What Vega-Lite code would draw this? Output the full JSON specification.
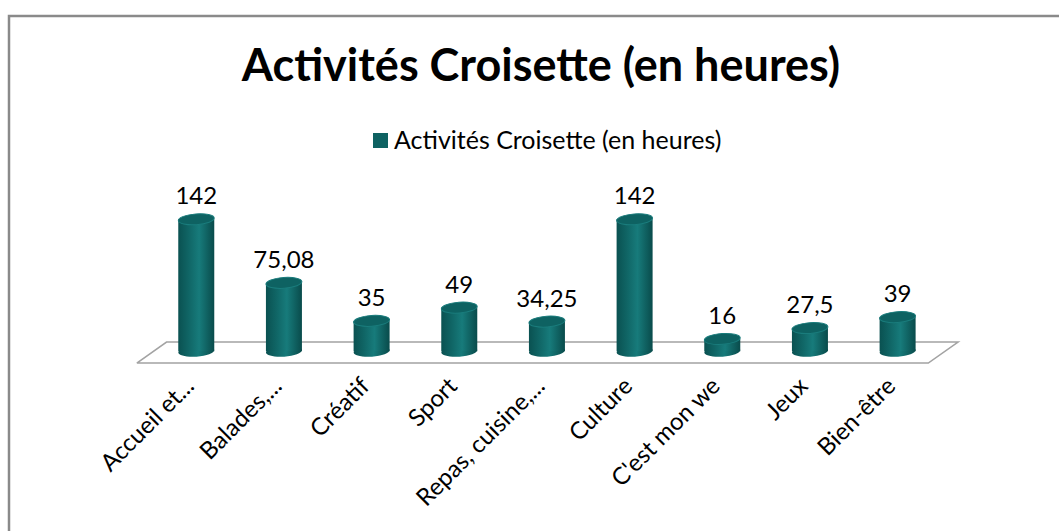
{
  "$schema": "https://vega.github.io/schema/vega-lite/v6.json",
  "width": 1060,
  "height": 525,
  "autosize": "none",
  "padding": {"left": 9, "top": 16, "right": 0, "bottom": 0},
  "background": "white",
  "config": {
    "view": {"stroke": "#8a8a8a", "strokeWidth": 2.5},
    "font": "Lato",
    "locale": {"number": {"decimal": ",", "thousands": " ", "grouping": [3], "currency": ["", " €"]}}
  },
  "title": {
    "text": "Activités Croisette (en heures)",
    "font": "Lato",
    "fontSize": 45,
    "fontWeight": "bold",
    "color": "#000000",
    "anchor": "middle",
    "frame": "group",
    "baseline": "alphabetic",
    "offset": -110,
    "dx": 2
  },
  "datasets": {
    "bars": [
      {"i": 0, "cat": "Accueil et...", "v": 142, "serie": "Activités Croisette (en heures)"},
      {"i": 1, "cat": "Balades,...", "v": 75.08, "serie": "Activités Croisette (en heures)"},
      {"i": 2, "cat": "Créatif", "v": 35, "serie": "Activités Croisette (en heures)"},
      {"i": 3, "cat": "Sport", "v": 49, "serie": "Activités Croisette (en heures)"},
      {"i": 4, "cat": "Repas, cuisine,...", "v": 34.25, "serie": "Activités Croisette (en heures)"},
      {"i": 5, "cat": "Culture", "v": 142, "serie": "Activités Croisette (en heures)"},
      {"i": 6, "cat": "C'est mon we", "v": 16, "serie": "Activités Croisette (en heures)"},
      {"i": 7, "cat": "Jeux", "v": 27.5, "serie": "Activités Croisette (en heures)"},
      {"i": 8, "cat": "Bien-être", "v": 39, "serie": "Activités Croisette (en heures)"}
    ],
    "floor": [
      {"i": -0.678, "h": -9.4, "o": 0},
      {"i": -0.339, "h": 12.7, "o": 1},
      {"i": 8.689, "h": 12.7, "o": 2},
      {"i": 8.35, "h": -9.4, "o": 3},
      {"i": -0.678, "h": -9.4, "o": 4}
    ]
  },
  "encoding": {
    "x": {"field": "i", "type": "quantitative", "scale": {"domain": [-2.079, 9.898], "nice": false, "zero": false}, "axis": null}
  },
  "layer": [
    {
      "data": {"name": "floor"},
      "mark": {"type": "line", "stroke": "#a3a3a3", "strokeWidth": 1.6, "interpolate": "linear"},
      "encoding": {
        "y": {"field": "h", "type": "quantitative", "scale": {"domain": [-196.8, 356.1], "nice": false, "zero": false}, "axis": null},
        "order": {"field": "o", "type": "quantitative"}
      }
    },
    {
      "data": {"name": "bars"},
      "mark": {"type": "point", "filled": true, "opacity": 1, "size": 1296, "angle": -4,
        "shape": "M -1 0 A 1 0.3 0 1 0 1 0 A 1 0.3 0 1 0 -1 0 Z",
        "fill": {"gradient": "linear", "x1": 0, "y1": 0, "x2": 1, "y2": 0,
          "stops": [{"offset": 0, "color": "#0a5151"}, {"offset": 0.55, "color": "#167a7a"}, {"offset": 1, "color": "#094b4b"}]}},
      "encoding": {"y": {"datum": 3, "type": "quantitative"}}
    },
    {
      "data": {"name": "bars"},
      "mark": {"type": "bar", "size": 36,
        "fill": {"gradient": "linear", "x1": 0, "y1": 0, "x2": 1, "y2": 0,
          "stops": [{"offset": 0, "color": "#0a5151"}, {"offset": 0.3, "color": "#106666"}, {"offset": 0.58, "color": "#177b7b"}, {"offset": 1, "color": "#094b4b"}]}},
      "encoding": {
        "y": {"field": "v", "type": "quantitative"},
        "y2": {"datum": 3}
      }
    },
    {
      "data": {"name": "bars"},
      "mark": {"type": "point", "filled": true, "opacity": 1, "size": 1296, "angle": -4,
        "shape": "M -1 0 A 1 0.3 0 1 0 1 0 A 1 0.3 0 1 0 -1 0 Z",
        "stroke": "#1a7c7c", "strokeWidth": 1},
      "encoding": {
        "y": {"field": "v", "type": "quantitative"},
        "color": {
          "field": "serie", "type": "nominal",
          "scale": {"range": ["#0e6262"]},
          "legend": {
            "title": null, "orient": "none", "legendX": 359, "legendY": 112,
            "symbolType": "square", "symbolSize": 225, "symbolStrokeWidth": 0,
            "labelFont": "Lato", "labelFontSize": 25, "labelColor": "#000000",
            "labelOffset": 1, "labelLimit": 0, "padding": 0
          }
        }
      }
    },
    {
      "data": {"name": "bars"},
      "mark": {"type": "text", "font": "Lato", "fontSize": 24, "color": "#000000", "dy": -15, "baseline": "alphabetic"},
      "encoding": {
        "y": {"field": "v", "type": "quantitative"},
        "text": {"field": "v", "type": "quantitative", "format": "~f"}
      }
    },
    {
      "data": {"name": "bars"},
      "mark": {"type": "text", "font": "Lato", "fontSize": 24, "color": "#000000", "angle": -45, "align": "right", "baseline": "middle", "dx": 0, "dy": -8},
      "encoding": {
        "y": {"datum": -36, "type": "quantitative"},
        "text": {"field": "cat", "type": "nominal"}
      }
    }
  ]
}
